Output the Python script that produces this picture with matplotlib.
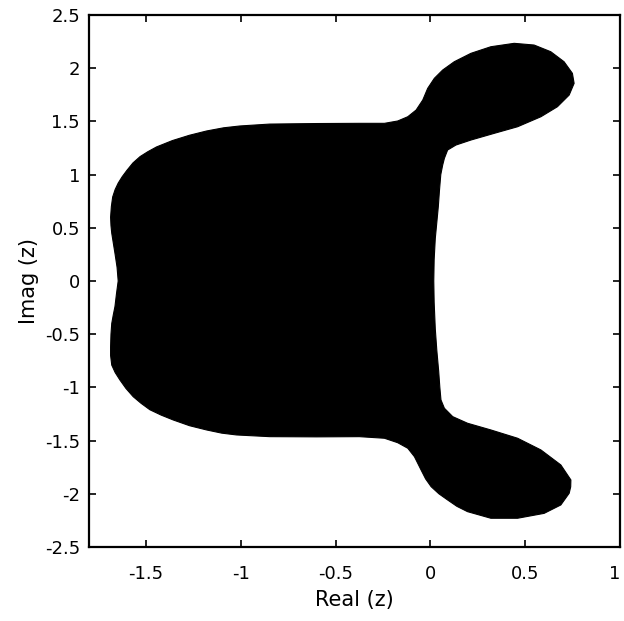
import matplotlib
matplotlib.use("Agg")
import matplotlib.pyplot as plt

plt.rcParams['font.family'] = ['DejaVu Sans']

# Boundary of the filled region (Real, Imag), traversed clockwise
boundary_real = [
    -1.646, -1.652, -1.663, -1.672, -1.680, -1.684, -1.686, -1.682, -1.675, -1.662,
    -1.646, -1.625, -1.600, -1.568, -1.530, -1.490, -1.444, -1.360, -1.270, -1.180,
    -1.090, -1.005, -0.847, -0.600, -0.374, -0.242, -0.172, -0.119, -0.075, -0.040,
    -0.014, 0.021, 0.065, 0.126, 0.214, 0.319, 0.442, 0.547, 0.635, 0.705,
    0.749, 0.758, 0.732, 0.670, 0.583, 0.460, 0.337, 0.214, 0.135, 0.091,
    0.074, 0.065, 0.055, 0.048, 0.042, 0.034, 0.026, 0.020, 0.018, 0.020,
    0.026, 0.034, 0.044, 0.050, 0.056, 0.074, 0.118, 0.196, 0.319, 0.460,
    0.583, 0.688, 0.741, 0.740, 0.732, 0.688, 0.600, 0.460, 0.319, 0.196, 0.140, 0.091,
    0.045, 0.004, -0.025, -0.049, -0.084, -0.119, -0.172, -0.242, -0.374, -0.600, -0.847, -1.022,
    -1.100, -1.180, -1.270, -1.356, -1.420, -1.479, -1.525, -1.567, -1.605, -1.637,
    -1.662, -1.680, -1.686, -1.686, -1.684, -1.680, -1.672, -1.663, -1.655,
]
boundary_imag = [
    0.000, 0.130, 0.260, 0.360, 0.450, 0.520, 0.600, 0.700, 0.790, 0.860,
    0.920, 0.980, 1.040, 1.110, 1.170, 1.215, 1.260, 1.320, 1.370, 1.410,
    1.440, 1.457, 1.475, 1.480, 1.482, 1.482, 1.504, 1.544, 1.607, 1.701,
    1.811, 1.905, 1.983, 2.061, 2.140, 2.202, 2.234, 2.218, 2.155, 2.061,
    1.952, 1.858, 1.748, 1.638, 1.544, 1.450, 1.388, 1.325, 1.278, 1.231,
    1.153, 1.090, 1.000, 0.850, 0.700, 0.550, 0.400, 0.200, 0.000, -0.200,
    -0.450, -0.650, -0.850, -1.000, -1.118, -1.196, -1.275, -1.337, -1.400, -1.478,
    -1.588, -1.729, -1.870, -1.935, -1.995, -2.105, -2.184, -2.230, -2.230, -2.168, -2.118, -2.058,
    -2.000, -1.933, -1.860, -1.776, -1.651, -1.572, -1.520, -1.478, -1.463, -1.465, -1.463, -1.447,
    -1.430, -1.400, -1.360, -1.306, -1.260, -1.210, -1.150, -1.087, -1.010, -0.930,
    -0.860, -0.790, -0.700, -0.620, -0.500, -0.400, -0.320, -0.240, -0.120,
]

x_ticks = [-1.5, -1, -0.5, 0, 0.5, 1]
x_tick_labels = ["-1.5", "-1", "-0.5", "0", "0.5", "1"]
y_ticks = [-2.5, -2, -1.5, -1, -0.5, 0, 0.5, 1, 1.5, 2, 2.5]
y_tick_labels = ["-2.5", "-2", "-1.5", "-1", "-0.5", "0", "0.5", "1", "1.5", "2", "2.5"]

fig = plt.figure(figsize=(6.24, 6.21), dpi=100)
ax = fig.add_axes([0.1426, 0.1192, 0.851, 0.8566])

ax.fill(boundary_real, boundary_imag, color='black', lw=0.8, ec='black')

ax.set_xlim(-1.8, 1.0)
ax.set_ylim(-2.5, 2.5)
ax.set_xticks(x_ticks)
ax.set_xticklabels(x_tick_labels)
ax.set_yticks(y_ticks)
ax.set_yticklabels(y_tick_labels)

ax.tick_params(direction='in', top=True, right=True, length=5, width=1.2,
               labelsize=13)
ax.tick_params(axis='x', pad=13)
ax.tick_params(axis='y', pad=6.5)
for s in ax.spines.values():
    s.set_linewidth(1.6)

# the last x tick label sits at the figure edge; align it to the right so it stays visible
ax.get_xticklabels()[-1].set_horizontalalignment('right')

ax.set_xlabel("Real (z)", fontsize=15, labelpad=5)
ax.set_ylabel("Imag (z)", fontsize=15, labelpad=4)

fig.savefig("out.png", dpi=100)
